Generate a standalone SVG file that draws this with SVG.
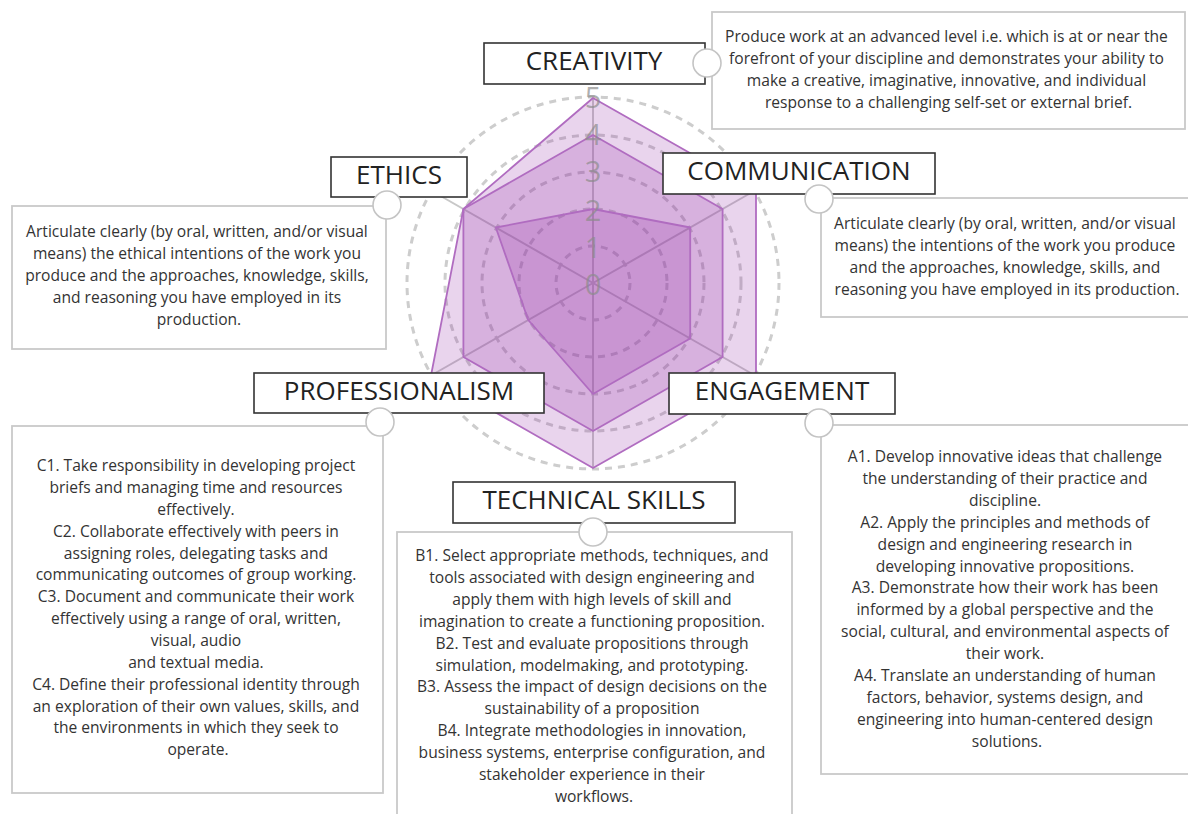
<svg xmlns="http://www.w3.org/2000/svg" width="1188" height="814" viewBox="0 0 1188 814">
<style>
.lbl{fill:#fff;stroke:#333;stroke-width:1.6}
.lt{font-family:"Open Sans","Liberation Sans",sans-serif;font-size:26px;fill:#222;text-anchor:middle}
.desc{fill:#fff;stroke:#c9c9c9;stroke-width:1.8}
.dt{font-family:"Open Sans","Liberation Sans",sans-serif;font-size:15.6px;fill:#333;text-anchor:middle}
.knob{fill:#fff;stroke:#c4c4c4;stroke-width:1.6}
.ring{fill:none;stroke:#cdcdcd;stroke-width:3;stroke-dasharray:7 6}
.axis{stroke:#c8c8c8;stroke-width:2}
.poly{fill:#8f2aa3;fill-opacity:0.2;stroke:#b06cc0;stroke-width:1.8;stroke-linejoin:round}
.num{font-family:"Open Sans","Liberation Sans",sans-serif;font-size:29px;fill:#8c8c8c;fill-opacity:0.7;text-anchor:middle}
</style>
<rect width="1188" height="814" fill="#fff"/>

<g id="radar">
  <g id="rings">
    <circle class="ring" cx="593" cy="283" r="37"/>
    <circle class="ring" cx="593" cy="283" r="74"/>
    <circle class="ring" cx="593" cy="283" r="111"/>
    <circle class="ring" cx="593" cy="283" r="148"/>
    <circle class="ring" cx="593" cy="283" r="186"/>
  </g>
  <g id="axes">
    <line class="axis" x1="593" y1="283" x2="593" y2="98"/>
    <line class="axis" x1="593" y1="283" x2="755" y2="190.5"/>
    <line class="axis" x1="593" y1="283" x2="755" y2="375.5"/>
    <line class="axis" x1="593" y1="283" x2="593" y2="468"/>
    <line class="axis" x1="593" y1="283" x2="431" y2="375.5"/>
    <line class="axis" x1="593" y1="283" x2="431" y2="190.5"/>
  </g>
  <polygon class="poly" points="593,98 756,190.5 756,375.5 593,468 431,375.5 463.4,209"/>
  <polygon class="poly" points="593,135 722.6,209 722.6,357 593,431 463.4,357 463.4,209"/>
  <polygon class="poly" points="593,209 690.2,227.5 690.2,338.5 593,394 528.2,320 495.8,227.5"/>
  <g id="scale">
    <text class="num" x="593" y="295">0</text>
    <text class="num" x="593" y="258">1</text>
    <text class="num" x="593" y="221">2</text>
    <text class="num" x="593" y="182">3</text>
    <text class="num" x="593" y="145">4</text>
    <text class="num" x="593" y="108">5</text>
  </g>
</g>

<g id="creativity-desc">
  <rect class="desc" x="712" y="12" width="473" height="117"/>
  <text class="dt">
    <tspan x="948.5" y="42">Produce work at an advanced level i.e. which is at or near the</tspan>
    <tspan x="948.5" y="64">forefront of your discipline and demonstrates your ability to</tspan>
    <tspan x="948.5" y="86">make a creative, imaginative, innovative, and individual</tspan>
    <tspan x="948.5" y="108">response to a challenging self-set or external brief.</tspan>
  </text>
</g>

<g id="ethics-desc">
  <rect class="desc" x="12" y="206" width="374" height="143"/>
  <text class="dt">
    <tspan x="199" y="237">Articulate clearly (by oral, written, and/or visual</tspan>
    <tspan x="199" y="259">means) the ethical intentions of the work you</tspan>
    <tspan x="199" y="281">produce and the approaches, knowledge, skills,</tspan>
    <tspan x="199" y="303">and reasoning you have employed in its</tspan>
    <tspan x="199" y="325">production.</tspan>
  </text>
</g>

<g id="communication-desc">
  <rect class="desc" x="821" y="198" width="372" height="119"/>
  <text class="dt">
    <tspan x="1007" y="229">Articulate clearly (by oral, written, and/or visual</tspan>
    <tspan x="1007" y="251">means) the intentions of the work you produce</tspan>
    <tspan x="1007" y="273">and the approaches, knowledge, skills, and</tspan>
    <tspan x="1007" y="295">reasoning you have employed in its production.</tspan>
  </text>
</g>

<g id="professionalism-desc">
  <rect class="desc" x="12" y="426" width="371" height="367"/>
  <text class="dt">
    <tspan x="198" y="471">C1. Take responsibility in developing project</tspan>
    <tspan x="198" y="492.9">briefs and managing time and resources</tspan>
    <tspan x="198" y="514.7">effectively.</tspan>
    <tspan x="198" y="536.6">C2. Collaborate effectively with peers in</tspan>
    <tspan x="198" y="558.5">assigning roles, delegating tasks and</tspan>
    <tspan x="198" y="580.4">communicating outcomes of group working.</tspan>
    <tspan x="198" y="602.2">C3. Document and communicate their work</tspan>
    <tspan x="198" y="624.1">effectively using a range of oral, written,</tspan>
    <tspan x="198" y="646">visual, audio</tspan>
    <tspan x="198" y="667.8">and textual media.</tspan>
    <tspan x="198" y="689.7">C4. Define their professional identity through</tspan>
    <tspan x="198" y="711.6">an exploration of their own values, skills, and</tspan>
    <tspan x="198" y="733.4">the environments in which they seek to</tspan>
    <tspan x="198" y="755.3">operate.</tspan>
  </text>
</g>

<g id="technical-desc">
  <rect class="desc" x="397" y="532" width="395" height="300"/>
  <text class="dt">
    <tspan x="594" y="561">B1. Select appropriate methods, techniques, and</tspan>
    <tspan x="594" y="582.9">tools associated with design engineering and</tspan>
    <tspan x="594" y="604.8">apply them with high levels of skill and</tspan>
    <tspan x="594" y="626.7">imagination to create a functioning proposition.</tspan>
    <tspan x="594" y="648.6">B2. Test and evaluate propositions through</tspan>
    <tspan x="594" y="670.5">simulation, modelmaking, and prototyping.</tspan>
    <tspan x="594" y="692.4">B3. Assess the impact of design decisions on the</tspan>
    <tspan x="594" y="714.3">sustainability of a proposition</tspan>
    <tspan x="594" y="736.2">B4. Integrate methodologies in innovation,</tspan>
    <tspan x="594" y="758.1">business systems, enterprise configuration, and</tspan>
    <tspan x="594" y="780">stakeholder experience in their</tspan>
    <tspan x="594" y="801.9">workflows.</tspan>
  </text>
</g>

<g id="engagement-desc">
  <rect class="desc" x="821" y="425" width="372" height="349"/>
  <text class="dt">
    <tspan x="1007" y="462">A1. Develop innovative ideas that challenge</tspan>
    <tspan x="1007" y="483.9">the understanding of their practice and</tspan>
    <tspan x="1007" y="505.8">discipline.</tspan>
    <tspan x="1007" y="527.7">A2. Apply the principles and methods of</tspan>
    <tspan x="1007" y="549.6">design and engineering research in</tspan>
    <tspan x="1007" y="571.5">developing innovative propositions.</tspan>
    <tspan x="1007" y="593.4">A3. Demonstrate how their work has been</tspan>
    <tspan x="1007" y="615.3">informed by a global perspective and the</tspan>
    <tspan x="1007" y="637.2">social, cultural, and environmental aspects of</tspan>
    <tspan x="1007" y="659.1">their work.</tspan>
    <tspan x="1007" y="681">A4. Translate an understanding of human</tspan>
    <tspan x="1007" y="702.9">factors, behavior, systems design, and</tspan>
    <tspan x="1007" y="724.8">engineering into human-centered design</tspan>
    <tspan x="1007" y="746.7">solutions.</tspan>
  </text>
</g>

<g id="creativity">
  <rect class="lbl" x="484" y="43" width="221" height="41"/>
  <text class="lt" x="594" y="70">CREATIVITY</text>
</g>
<g id="ethics">
  <rect class="lbl" x="331" y="157" width="136" height="40"/>
  <text class="lt" x="399" y="184">ETHICS</text>
</g>
<g id="communication">
  <rect class="lbl" x="663" y="153" width="272" height="41"/>
  <text class="lt" x="799" y="180">COMMUNICATION</text>
</g>
<g id="professionalism">
  <rect class="lbl" x="254" y="373" width="290" height="40"/>
  <text class="lt" x="399" y="400">PROFESSIONALISM</text>
</g>
<g id="engagement">
  <rect class="lbl" x="669" y="373" width="226" height="41"/>
  <text class="lt" x="782" y="400">ENGAGEMENT</text>
</g>
<g id="technical-skills">
  <rect class="lbl" x="453" y="482" width="282" height="41"/>
  <text class="lt" x="594" y="509">TECHNICAL SKILLS</text>
</g>

<g id="connectors">
  <circle class="knob" cx="707" cy="63" r="14"/>
  <circle class="knob" cx="387" cy="205" r="14"/>
  <circle class="knob" cx="819" cy="199" r="14"/>
  <circle class="knob" cx="380" cy="422" r="14"/>
  <circle class="knob" cx="819" cy="423" r="14"/>
  <circle class="knob" cx="593" cy="532" r="14"/>
</g>
</svg>
